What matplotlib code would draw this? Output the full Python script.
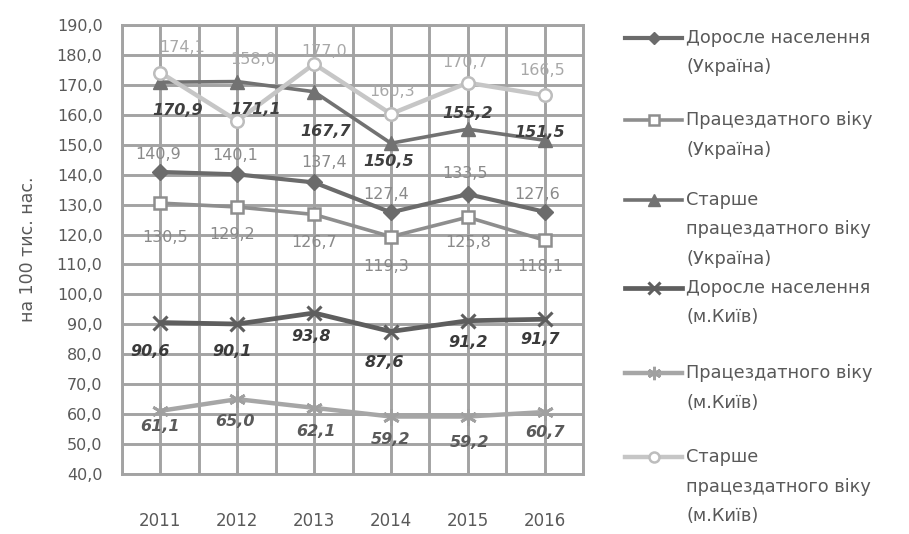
import matplotlib
matplotlib.use('Agg')
import matplotlib.pyplot as plt
from matplotlib.lines import Line2D

plt.rcParams['font.family'] = ['DejaVu Sans']

years = ['2011', '2012', '2013', '2014', '2015', '2016']
adult_ua = [140.9, 140.1, 137.4, 127.4, 133.5, 127.6]
working_ua = [130.5, 129.2, 126.7, 119.3, 125.8, 118.1]
older_ua = [170.9, 171.1, 167.7, 150.5, 155.2, 151.5]
adult_kyiv = [90.6, 90.1, 93.8, 87.6, 91.2, 91.7]
working_kyiv = [61.1, 65.0, 62.1, 59.2, 59.2, 60.7]
older_kyiv = [174.1, 158.0, 177.0, 160.3, 170.7, 166.5]

series_names = [
    'Доросле населення\n(Україна)',
    'Працездатного віку\n(Україна)',
    'Старше\nпрацездатного віку\n(Україна)',
    'Доросле населення\n(м.Київ)',
    'Працездатного віку\n(м.Київ)',
    'Старше\nпрацездатного віку\n(м.Київ)',
]
y_ticks = [40, 50, 60, 70, 80, 90, 100, 110, 120, 130, 140, 150, 160, 170, 180, 190]

series = [adult_ua, working_ua, older_ua, adult_kyiv, working_kyiv, older_kyiv]
styles = [
    dict(color='#6b6b6b', lw=3.0, marker='D', ms=8, mfc='#6b6b6b', mec='#6b6b6b'),
    dict(color='#8e8e8e', lw=2.6, marker='s', ms=9, mfc='white', mec='#8e8e8e', mew=1.8),
    dict(color='#727272', lw=2.6, marker='^', ms=10, mfc='#727272', mec='#727272'),
    dict(color='#5e5e5e', lw=3.4, marker='x', ms=10, mfc='#5e5e5e', mec='#5e5e5e', mew=2.2),
    dict(color='#a6a6a6', lw=3.2, marker=(6, 2, 0), ms=12, mfc='#a0a0a0', mec='#a0a0a0', mew=2.0),
    dict(color='#c6c6c6', lw=3.2, marker='o', ms=9, mfc='white', mec='#bdbdbd', mew=1.8),
]
label_styles = [
    dict(color='#8a8a8a', fontsize=11.5, style='normal', weight='normal'),
    dict(color='#8a8a8a', fontsize=11.5, style='normal', weight='normal'),
    dict(color='#3f3f3f', fontsize=11.5, style='italic', weight='bold'),
    dict(color='#3a3a3a', fontsize=11.5, style='italic', weight='bold'),
    dict(color='#5a5a5a', fontsize=11.5, style='italic', weight='bold'),
    dict(color='#a8a8a8', fontsize=11.5, style='normal', weight='normal'),
]
# label offsets in pixels (dx, dy) relative to the marker
label_offsets = [
    [(-2, 17), (-2, 19), (10, 20), (-5, 18), (-3, 21), (-7, 17)],
    [(5, -34), (-5, -28), (0, -28), (-5, -30), (0, -25), (-4, -26)],
    [(17, -28), (18, -28), (12, -40), (-2, -18), (0, 16), (-5, 8)],
    [(-10, -29), (-5, -27), (-3, -24), (-7, -31), (0, -22), (-4, -20)],
    [(0, -16), (-2, -22), (2, -24), (0, -23), (2, -26), (0, -20)],
    [(22, 25), (16, 61), (10, 12), (1, 22), (-3, 20), (-2, 25)],
]

W, H = 909, 534
fig = plt.figure(figsize=(W / 100, H / 100), dpi=100)
ax = fig.add_axes([122 / W, 1 - 474 / H, (583 - 122) / W, (474 - 25) / H])

x = list(range(len(years)))
grid_c = '#a3a3a3'
for i, vals in enumerate(series):
    ax.plot(x, vals, zorder=3, **styles[i])
    for j, v in enumerate(vals):
        dx, dy = label_offsets[i][j]
        ax.annotate(f'{v:.1f}'.replace('.', ','), (x[j], v), xytext=(dx, dy),
                    textcoords='offset pixels', ha='center', va='center',
                    zorder=5, **label_styles[i])

ax.set_xlim(-0.5, 5.5)
ax.set_ylim(40, 190)
ax.set_xticks(x)
ax.set_xticklabels(years)
ax.set_xticks([k - 0.5 for k in range(7)], minor=True)
ax.set_yticks(y_ticks)
ax.set_yticklabels([f'{t:.1f}'.replace('.', ',') for t in y_ticks])
ax.grid(True, which='both', color=grid_c, lw=2.1, zorder=0)
ax.set_axisbelow(True)
ax.tick_params(axis='both', which='both', length=0, labelsize=11.5, colors='#595959')
ax.tick_params(axis='x', pad=27, labelsize=12)
ax.tick_params(axis='y', pad=14)
for s in ax.spines.values():
    s.set_color(grid_c)
    s.set_linewidth(2.1)
ax.set_ylabel('на 100 тис. нас.', fontsize=12.5, color='#595959', labelpad=14)

# legend drawn by hand so the handle lines up with the first text line
rows = [38, 120, 200, 288, 373, 457]
for i, name in enumerate(series_names):
    fy = 1 - rows[i] / H
    st = dict(styles[i])
    ms = st.pop('ms')
    h = Line2D([625 / W, 682 / W], [fy, fy], transform=fig.transFigure,
               markevery=[], **st)
    fig.add_artist(h)
    m = Line2D([653.5 / W], [fy], transform=fig.transFigure, ms=ms * 0.8,
               **{k: v for k, v in st.items() if k != 'lw'}, lw=0)
    fig.add_artist(m)
    for k, line in enumerate(name.split('\n')):
        fig.text(686 / W, 1 - (rows[i] + k * 29.5) / H, line, fontsize=12.8,
                 color='#595959', va='center', ha='left')

fig.savefig('out.png', dpi=100)
